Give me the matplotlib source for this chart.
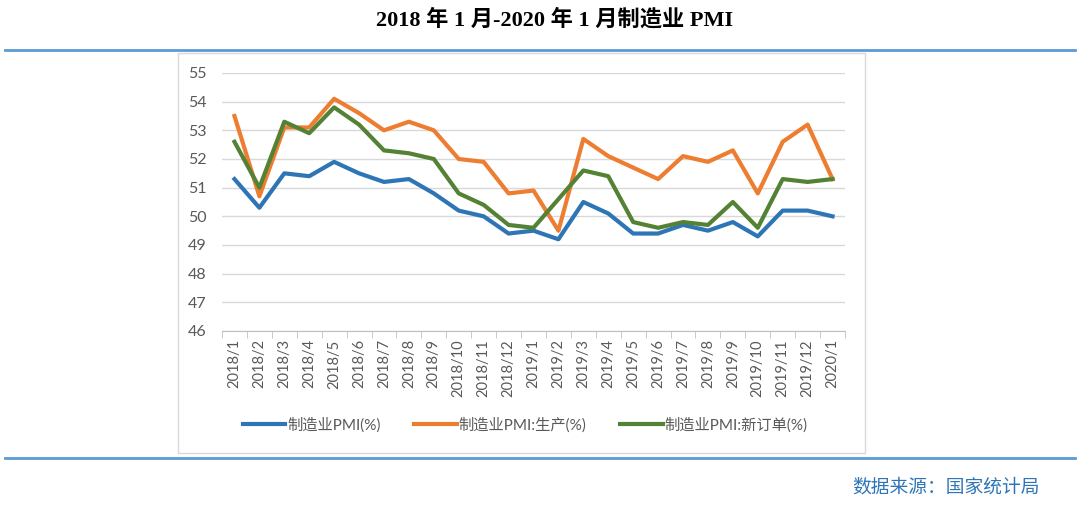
import matplotlib.pyplot as plt
from matplotlib.patches import Rectangle
from matplotlib.lines import Line2D

plt.rcParams['font.family'] = ['Lato', 'Noto Sans CJK SC', 'DejaVu Sans']

months = ["2018/1", "2018/2", "2018/3", "2018/4", "2018/5", "2018/6", "2018/7",
          "2018/8", "2018/9", "2018/10", "2018/11", "2018/12", "2019/1",
          "2019/2", "2019/3", "2019/4", "2019/5", "2019/6", "2019/7", "2019/8",
          "2019/9", "2019/10", "2019/11", "2019/12", "2020/1"]
pmi = [51.3, 50.3, 51.5, 51.4, 51.9, 51.5, 51.2, 51.3, 50.8, 50.2, 50.0, 49.4,
       49.5, 49.2, 50.5, 50.1, 49.4, 49.4, 49.7, 49.5, 49.8, 49.3, 50.2, 50.2,
       50.0]
production = [53.5, 50.7, 53.1, 53.1, 54.1, 53.6, 53.0, 53.3, 53.0, 52.0, 51.9,
              50.8, 50.9, 49.5, 52.7, 52.1, 51.7, 51.3, 52.1, 51.9, 52.3, 50.8,
              52.6, 53.2, 51.3]
new_orders = [52.6, 51.0, 53.3, 52.9, 53.8, 53.2, 52.3, 52.2, 52.0, 50.8, 50.4,
              49.7, 49.6, 50.6, 51.6, 51.4, 49.8, 49.6, 49.8, 49.7, 50.5, 49.6,
              51.3, 51.2, 51.3]
labels = ["制造业PMI(%)", "制造业PMI:生产(%)", "制造业PMI:新订单(%)"]
colors = ["#2E75B6", "#ED7D31", "#548235"]

fig = plt.figure(figsize=(10.8, 5.09), dpi=100)

# title
fig.text(555 / 1080, 1 - 20 / 509, "2018 年 1 月-2020 年 1 月制造业 PMI", ha="center", va="center",
         fontsize=16, fontweight="bold",
         family=["Liberation Serif", "Noto Sans CJK SC"])

# blue separator lines
for yy in (50, 458):
    fig.add_artist(Line2D([5 / 1080, 1075 / 1080], [1 - yy / 509, 1 - yy / 509],
                          color="#5B9BD5", lw=2))

# chart frame
fig.add_artist(Rectangle((178 / 1080, 1 - 453 / 509), 687 / 1080, 400 / 509,
                         fill=False, edgecolor="#D9D9D9", lw=1))

ax = fig.add_axes([222 / 1080, 1 - 331 / 509, 623 / 1080, 258 / 509])
x = range(len(months))
ax.plot(x, pmi, color=colors[0], lw=3, label=labels[0], solid_joinstyle="round")
ax.plot(x, production, color=colors[1], lw=3, label=labels[1], solid_joinstyle="round")
ax.plot(x, new_orders, color=colors[2], lw=3, label=labels[2], solid_joinstyle="round")

ax.set_xlim(-0.5, len(months) - 0.5)
ax.set_ylim(46, 55)
ax.set_yticks(range(46, 56))
ax.yaxis.grid(True, color="#D9D9D9", lw=1)
ax.set_axisbelow(True)
ax.set_xticks(list(x))
ax.set_xticklabels(months, rotation=90, fontsize=10.5, color="#595959")
ax.set_xticks([i - 0.5 for i in range(len(months) + 1)], minor=True)
ax.tick_params(axis="x", which="major", length=0, pad=6)
ax.tick_params(axis="x", which="minor", length=5, color="#BFBFBF")
ax.tick_params(axis="y", length=0, labelsize=11.5, labelcolor="#595959", pad=11)
for s in ("top", "right", "left"):
    ax.spines[s].set_visible(False)
ax.spines["bottom"].set_color("#BFBFBF")

fig.legend(loc="center", bbox_to_anchor=(525 / 1080, 1 - 425 / 509), ncol=3,
           frameon=False, fontsize=11, labelcolor="#595959", handlelength=2.8,
           columnspacing=2.2, handletextpad=0.1)

fig.text(1040 / 1080, 1 - 487 / 509, "数据来源：国家统计局", ha="right", va="center",
         fontsize=13.5, color="#2E75B6")

fig.savefig("out.png", dpi=100)
